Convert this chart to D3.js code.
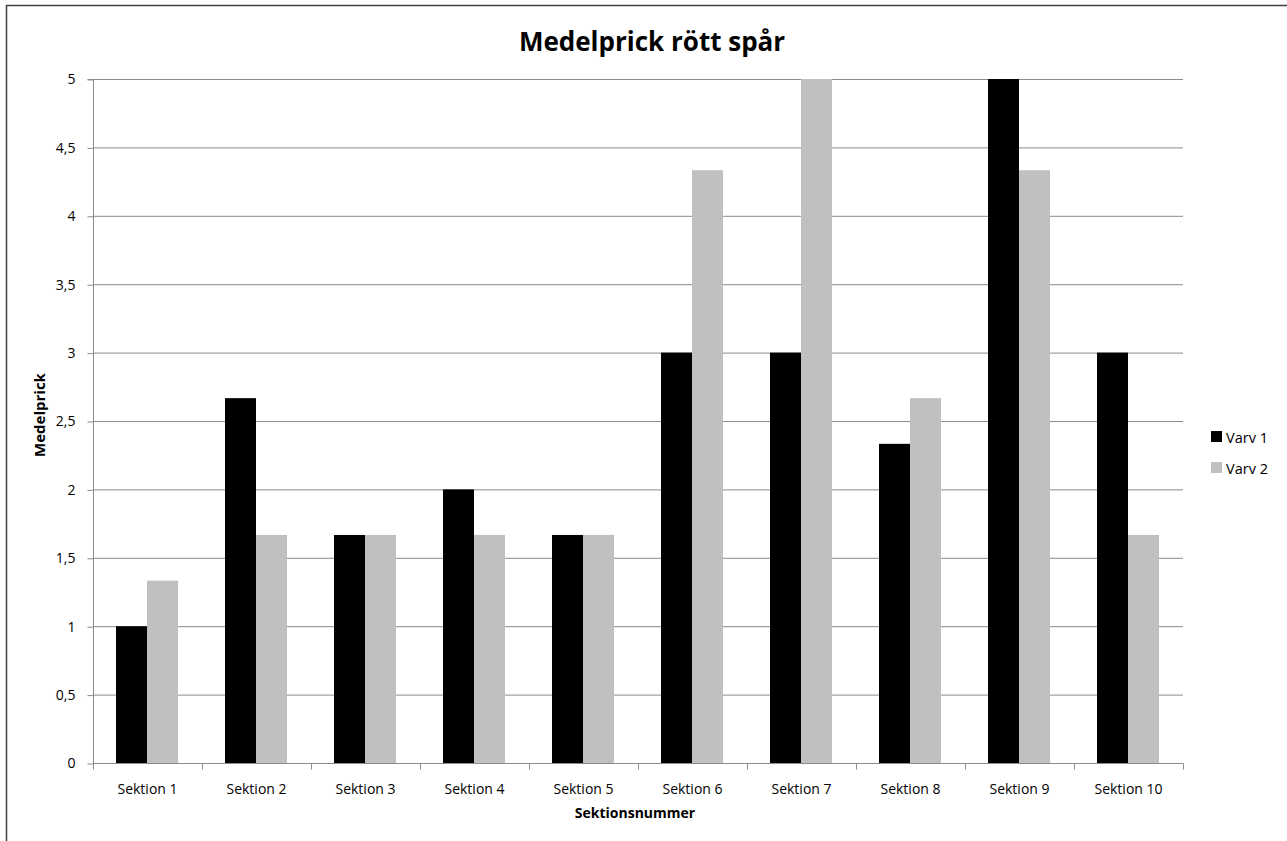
<!DOCTYPE html>
<html>
<head>
<meta charset="utf-8">
<script src="https://cdn.jsdelivr.net/npm/d3@7"></script>
<style>
  body { margin: 0; background: #fff; overflow: hidden; }
  svg { display: block; font-family: "Open Sans", sans-serif; }
</style>
</head>
<body>
<svg id="chart" width="1287" height="841"></svg>
<script>
const categories = ["Sektion 1", "Sektion 2", "Sektion 3", "Sektion 4", "Sektion 5",
  "Sektion 6", "Sektion 7", "Sektion 8", "Sektion 9", "Sektion 10"];
const varv1 = [1, 2.667, 1.667, 2, 1.667, 3, 3, 2.333, 5, 3];
const varv2 = [1.333, 1.667, 1.667, 1.667, 1.667, 4.333, 5, 2.667, 4.333, 1.667];
const seriesNames = ["Varv 1", "Varv 2"];
const yTicks = [0, 0.5, 1, 1.5, 2, 2.5, 3, 3.5, 4, 4.5, 5];

const colors = ["#000000", "#c0c0c0"];
const svg = d3.select("#chart");
const plotL = 93, plotR = 1183, plotT = 79, plotB = 763;

// outer frame (right and bottom edges fall outside the picture)
svg.append("path")
  .attr("d", "M6.5,900V5.5H1400")
  .attr("fill", "none").attr("stroke", "#404040").attr("stroke-width", 1.5);

const x = d3.scaleBand().domain(categories).range([plotL, plotR]);
const y = d3.scaleLinear().domain([0, 5]).range([plotB, plotT]);
const xs = d3.scaleBand().domain([0, 1]).range([23, x.bandwidth() - 24]);

// gridlines
svg.append("g")
  .selectAll("line")
  .data(yTicks.filter(t => t > 0))
  .join("line")
  .attr("x1", plotL).attr("x2", plotR)
  .attr("y1", d => y(d) + 0.5).attr("y2", d => y(d) + 0.5)
  .attr("stroke", "#8c8c8c").attr("stroke-width", 1);

// bars
const rows = categories.map((c, i) => ({ c, vals: [varv1[i], varv2[i]] }));
svg.append("g")
  .selectAll("g")
  .data(rows)
  .join("g")
  .attr("transform", d => `translate(${x(d.c)},0)`)
  .selectAll("rect")
  .data(d => d.vals.map((v, k) => ({ v, k })))
  .join("rect")
  .attr("x", d => xs(d.k))
  .attr("width", xs.bandwidth())
  .attr("y", d => y(d.v))
  .attr("height", d => y(0) - y(d.v))
  .attr("fill", d => colors[d.k]);

// y axis
const yAxis = svg.append("g")
  .attr("transform", `translate(${plotL + 0.5},0.5)`)
  .call(d3.axisLeft(y).tickValues(yTicks).tickSize(6).tickPadding(12)
    .tickFormat(d => String(d).replace(".", ",")));
yAxis.selectAll("line, path").attr("stroke", "#8c8c8c");
yAxis.select("path").attr("d", `M-6,${plotT}H0V${plotB}`);
yAxis.selectAll("text").attr("font-size", 14).attr("fill", "#000")
  .style("font-family", "'Open Sans', sans-serif");

// x axis
const xAxis = svg.append("g")
  .attr("transform", `translate(0,${plotB + 0.5})`)
  .call(d3.axisBottom(x).tickSize(0).tickPadding(21));
xAxis.select("path").attr("stroke", "#8c8c8c").attr("d", `M${plotL},0H${plotR}`);
xAxis.selectAll("text").attr("font-size", 14).attr("fill", "#000")
  .style("font-family", "'Open Sans', sans-serif");
// category boundary ticks
xAxis.append("g")
  .selectAll("line")
  .data([plotL].concat(categories.map(c => x(c) + x.bandwidth())))
  .join("line")
  .attr("x1", d => d + 0.5).attr("x2", d => d + 0.5)
  .attr("y1", 0).attr("y2", 6)
  .attr("stroke", "#8c8c8c");

// title
svg.append("text")
  .attr("x", 652).attr("y", 51)
  .attr("text-anchor", "middle")
  .attr("font-size", 26).attr("font-weight", "bold")
  .text("Medelprick rött spår");

// axis titles
svg.append("text")
  .attr("x", 635).attr("y", 818)
  .attr("text-anchor", "middle")
  .attr("font-size", 14).attr("font-weight", "bold")
  .text("Sektionsnummer");

svg.append("text")
  .attr("transform", "translate(45,415) rotate(-90)")
  .attr("text-anchor", "middle")
  .attr("font-size", 15).attr("font-weight", "bold")
  .text("Medelprick");

// legend
const legend = svg.append("g").attr("transform", "translate(1211,431)");
const li = legend.selectAll("g")
  .data(seriesNames)
  .join("g")
  .attr("transform", (d, i) => `translate(0,${i * 31})`);
li.append("rect").attr("width", 11).attr("height", 11).attr("fill", (d, i) => colors[i]);
li.append("text").attr("x", 15).attr("y", 11.5).attr("font-size", 14.5).text(d => d);
</script>
</body>
</html>
